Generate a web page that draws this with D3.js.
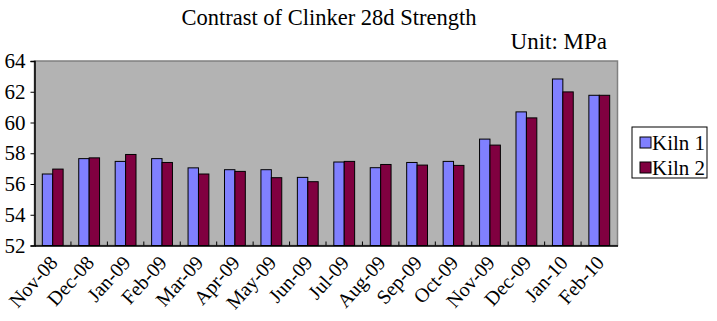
<!DOCTYPE html>
<html><head><meta charset="utf-8">
<script src="https://cdn.jsdelivr.net/npm/d3@7"></script>
<style>body{margin:0;background:#fff}svg{display:block}text{font-family:"Liberation Serif","Times New Roman",serif;fill:#000}</style>
</head><body><svg id="c" width="717" height="321"></svg>
<script>
const categories = ["Nov-08","Dec-08","Jan-09","Feb-09","Mar-09","Apr-09","May-09","Jun-09","Jul-09","Aug-09","Sep-09","Oct-09","Nov-09","Dec-09","Jan-10","Feb-10"];
const kiln1 = [56.65,57.65,57.47,57.65,57.05,56.93,56.93,56.43,57.43,57.06,57.40,57.47,58.92,60.69,62.83,61.77];
const kiln2 = [56.97,57.70,57.92,57.40,56.65,56.82,56.41,56.15,57.47,57.27,57.23,57.21,58.53,60.30,61.99,61.77];
const seriesNames = ["Kiln 1","Kiln 2"];
const colors = ["#8080ff","#800040"];
const yTicks = [52,54,56,58,60,62,64];

const svg = d3.select("#c");
const L=34.5, R=617.5, T=61, B=245.5;
const x = d3.scaleBand().domain(categories).range([L,R]).paddingInner(0).paddingOuter(0);
const y = d3.scaleLinear().domain([52,64]).range([B,T]);
const bw = x.bandwidth()/3.5;
const xs = d3.scaleBand().domain(seriesNames).range([x.bandwidth()*0.75/3.5, x.bandwidth()*0.75/3.5 + 2*bw]);

// plot area
svg.append("rect").attr("x",L).attr("y",T).attr("width",R-L).attr("height",B-T).attr("fill","#b3b3b3").attr("stroke","#808080").attr("stroke-width",1.5);

// bars
const series = [kiln1,kiln2];
series.forEach((vals,si)=>{
  svg.append("g").selectAll("rect").data(vals).join("rect")
    .attr("x",(d,i)=>x(categories[i])+xs(seriesNames[si]))
    .attr("y",d=>y(d))
    .attr("width",xs.bandwidth())
    .attr("height",d=>B-y(d))
    .attr("fill",colors[si]).attr("stroke","#000").attr("stroke-width",1);
});

// y axis
const yAxis = d3.axisLeft(y).tickValues(yTicks).tickSize(4).tickPadding(5).tickFormat(d3.format("d"));
const gy = svg.append("g").attr("transform",`translate(${L},0)`).call(yAxis);
gy.select(".domain").attr("stroke","#000").attr("stroke-width",1.5);
gy.selectAll(".tick line").attr("stroke","#000");
gy.selectAll("text").attr("font-size",21).attr("font-family","Liberation Serif").attr("fill","#000");

// x axis
const xAxis = d3.axisBottom(x).tickSize(0).tickPadding(0);
const gx = svg.append("g").attr("transform",`translate(0,${B})`).call(xAxis);
gx.select(".domain").attr("stroke","#000").attr("stroke-width",1.5);
gx.selectAll(".tick text").attr("font-size",20).attr("font-family","Liberation Serif").attr("fill","#000")
  .attr("text-anchor","end").attr("dy",0).attr("transform","translate(6,18) rotate(-48)");
// inner tick marks at category boundaries
svg.append("g").selectAll("line").data(categories.slice(1)).join("line")
  .attr("x1",d=>x(d)).attr("x2",d=>x(d)).attr("y1",B).attr("y2",B-4).attr("stroke","#000").attr("stroke-width",1);

// title
svg.append("text").attr("x",329).attr("y",25).attr("text-anchor","middle").attr("font-size",22.5).text("Contrast of Clinker 28d Strength");
svg.append("text").attr("x",607).attr("y",49).attr("text-anchor","end").attr("font-size",23).text("Unit: MPa");

// legend
const lg = svg.append("g");
lg.append("rect").attr("x",632).attr("y",127).attr("width",75).attr("height",51).attr("fill","#fff").attr("stroke","#000").attr("stroke-width",1);
seriesNames.forEach((n,i)=>{
  const cy = 143 + i*25;
  lg.append("rect").attr("x",640).attr("y",cy-6).attr("width",11).attr("height",11).attr("fill",colors[i]).attr("stroke","#000");
  lg.append("text").attr("x",652).attr("y",cy+7).attr("font-size",21).text(n);
});
</script></body></html>
